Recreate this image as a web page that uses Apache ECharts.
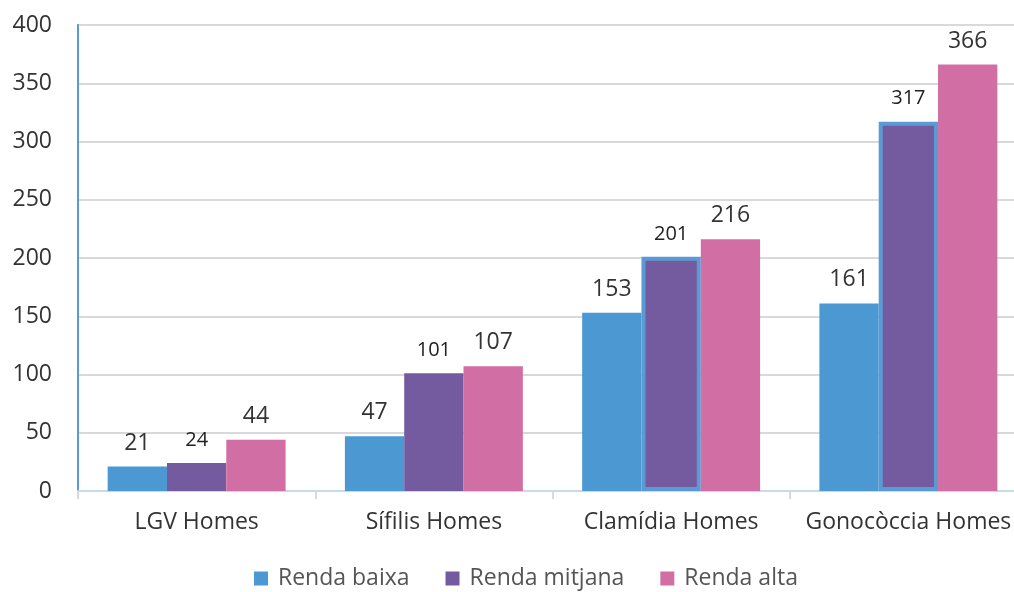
<!DOCTYPE html>
<html>
<head>
<meta charset="utf-8">
<script src="https://cdn.jsdelivr.net/npm/echarts@6/dist/echarts.min.js"></script>
<style>
  html, body { margin: 0; padding: 0; background: #fff; }
</style>
</head>
<body>
<div id="main" style="width: 1014px; height: 592px"></div>
<script>
// dades
const categories = ["LGV Homes", "Sífilis Homes", "Clamídia Homes", "Gonocòccia Homes"];
const rendaBaixa = [21, 47, 153, 161];
const rendaMitjana = [24, 101, 201, 317];
const rendaAlta = [44, 107, 216, 366];
const yTicks = { min: 0, max: 400, interval: 50 };
// barres destacades (amb vora blava)
const highlighted = [2, 3];

const font = "'Open Sans', 'Noto Sans', sans-serif";

let myChart = echarts.init(document.getElementById("main"));

let option = {
  animation: false,
  textStyle: { fontFamily: font },
  grid: {
    left: 78,
    top: 25,
    bottom: 101,
    width: 949, // el gràfic original queda tallat per la dreta
    outerBoundsMode: "none",
    containLabel: false,
    show: true,
    borderColor: "#5b9bd5",
    borderWidth: 2,
  },
  legend: {
    top: 562,
    left: 249,
    itemWidth: 14,
    itemHeight: 14,
    itemGap: 36,
    icon: "rect",
    textStyle: { fontSize: 23, color: "#555", fontFamily: font, padding: [0, 0, 0, 5] },
  },
  xAxis: {
    type: "category",
    data: categories,
    axisLine: { lineStyle: { color: "#c8d9ea", width: 2 } },
    axisTick: { show: true, length: 8, lineStyle: { color: "#d9d9d9", width: 2 } },
    axisLabel: { fontSize: 23, color: "#333", margin: 20, interval: 0 },
  },
  yAxis: {
    type: "value",
    min: yTicks.min,
    max: yTicks.max,
    interval: yTicks.interval,
    axisLine: { show: true, lineStyle: { color: "#5b9bd5", width: 2 } },
    axisTick: { show: false },
    splitLine: { lineStyle: { color: "#d9d9d9", width: 2 } },
    axisLabel: { fontSize: 23, color: "#333", margin: 26 },
  },
  series: [
    {
      name: "Renda baixa",
      type: "bar",
      data: rendaBaixa,
      barGap: "0%",
      barCategoryGap: "25%",
      itemStyle: { color: "#4b98d3" },
      label: { show: true, position: "top", distance: 12, fontSize: 23, color: "#333" },
    },
    {
      name: "Renda mitjana",
      type: "bar",
      data: rendaMitjana.map((v, i) =>
        highlighted.includes(i)
          ? { value: v, itemStyle: { borderColor: "#5b9bd5", borderWidth: 4 } }
          : v
      ),
      itemStyle: { color: "#745a9f" },
      label: { show: true, position: "top", distance: 13, fontSize: 20, color: "#222" },
    },
    {
      name: "Renda alta",
      type: "bar",
      data: rendaAlta,
      itemStyle: { color: "#d16ea3" },
      label: { show: true, position: "top", distance: 12, fontSize: 23, color: "#333" },
    },
  ],
};

myChart.setOption(option);
</script>
</body>
</html>
